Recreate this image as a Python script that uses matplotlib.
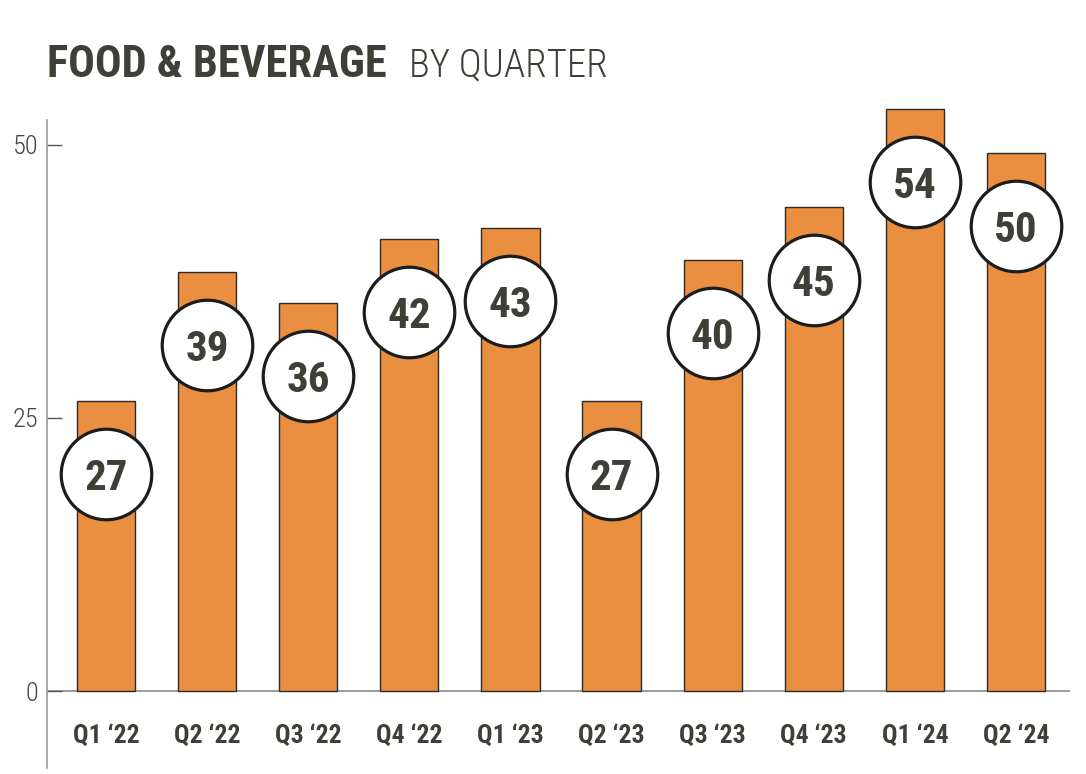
import matplotlib
matplotlib.use('Agg')
import matplotlib.pyplot as plt

quarters = ["Q1 \u201822", "Q2 \u201822", "Q3 \u201822", "Q4 \u201822", "Q1 \u201823",
            "Q2 \u201823", "Q3 \u201823", "Q4 \u201823", "Q1 \u201824", "Q2 \u201824"]
values = [26.6, 38.4, 35.5, 41.4, 42.4, 26.6, 39.5, 44.3, 53.3, 49.3]
labels = ["27", "39", "36", "42", "43", "27", "40", "45", "54", "50"]
yticks = [0, 25, 50]

narrow = ['Roboto Condensed', 'Roboto', 'DejaVu Sans']
dark = '#3f3f38'
orange = '#ea8f3f'

fig = plt.figure(figsize=(10.86, 7.74), dpi=100)
ax = fig.add_axes([0.0433, 0.00775, 0.942, 0.8755])

x = list(range(len(values)))
ax.bar(x, values, width=0.575, color=orange, edgecolor='#2a2a2a', linewidth=1.0, zorder=2)
ax.axhline(0, color='#8a8a8a', linewidth=1.2, zorder=1)

# circle badges a bit below the bar tops
cy = [v - 6.7 for v in values]
ax.scatter(x, cy, s=4250, facecolor='white', edgecolor='#1c1c1c', linewidth=2.3, zorder=3)
for xi, yi, lab in zip(x, cy, labels):
    ax.text(xi, yi, lab, ha='center', va='center_baseline', fontsize=31,
            fontweight='bold', family=narrow, color=dark, zorder=4)

ax.set_xlim(-0.584, 9.535)
ax.set_ylim(-7.05, 55)
for s in ['top', 'right', 'bottom']:
    ax.spines[s].set_visible(False)
ax.spines['left'].set_color('#9a9a9a')
ax.spines['left'].set_linewidth(1.2)
ax.spines['left'].set_bounds(-7.05, 52.3)

ax.set_yticks(yticks)
ax.set_yticklabels([str(t) for t in yticks], fontsize=19, family=narrow,
                   fontweight='light', color='#444444')
ax.tick_params(axis='y', direction='in', length=11, width=1.0, color='#555555', pad=6)
ax.set_xticks([])
for xi, q in zip(x, quarters):
    ax.text(xi, -4.1, q, ha='center', va='center', fontsize=18.5, fontweight='bold',
            family=narrow, color=dark)

t1 = fig.text(47 / 1086, 1 - 77 / 774, "FOOD & BEVERAGE", fontsize=32, fontweight='bold',
              family=narrow, color=dark, va='baseline')
fig.canvas.draw()
bb = t1.get_window_extent()
fig.text((bb.x1 + 22) / 1086, 1 - 77 / 774, "BY QUARTER", fontsize=28,
         family=narrow, fontweight='light', color=dark, va='baseline')

fig.savefig('out.png', dpi=100)
